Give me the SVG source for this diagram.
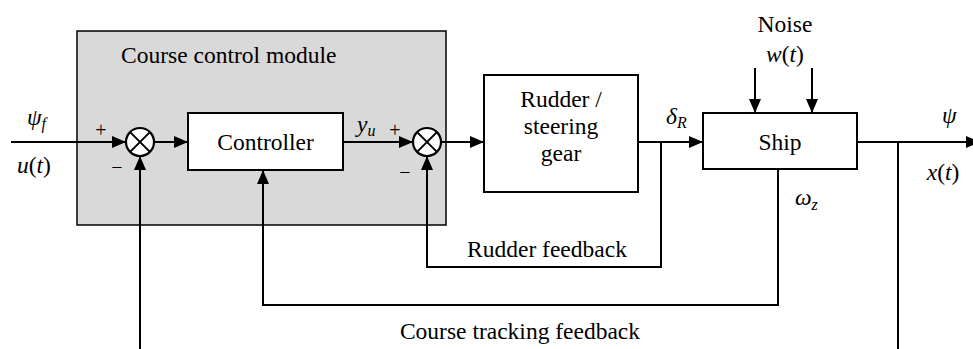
<svg xmlns="http://www.w3.org/2000/svg" width="973" height="349" viewBox="0 0 973 349" font-family="'Liberation Serif', 'Times New Roman', serif">
  <style>
    text { font-family: 'Liberation Serif', 'Times New Roman', serif; font-size: 23.5px; fill: #000; }
    .m { font-style: italic; }
    .n { font-style: normal; }
    .sub { font-size: 16px; font-style: italic; }
    .c { text-anchor: middle; }
    .box { fill: #fff; stroke: #000; stroke-width: 2; }
    .wire { fill: none; stroke: #000; stroke-width: 2; }
    .sum { fill: #fff; stroke: #000; stroke-width: 2.2; }
    .sign { font-size: 20px; }
  </style>
  <defs>
    <marker id="arrow" viewBox="0 0 14 12" refX="14" refY="6" markerWidth="14" markerHeight="12" markerUnits="userSpaceOnUse" orient="auto">
      <path d="M0,0 L14,6 L0,12 Z" fill="#000"/>
    </marker>
  </defs>

  <!-- controller module frame -->
  <g id="module">
    <rect x="77" y="31" width="369" height="194" fill="#d9d9d9" stroke="#000" stroke-width="1.5"/>
    <text x="121" y="63">Course control module</text>
  </g>

  <!-- connectors -->
  <g id="connectors">
    <line class="wire" x1="11" y1="142" x2="126" y2="142" marker-end="url(#arrow)"/>
    <line class="wire" x1="154" y1="142" x2="188" y2="142" marker-end="url(#arrow)"/>
    <line class="wire" x1="343" y1="142" x2="413" y2="142" marker-end="url(#arrow)"/>
    <line class="wire" x1="441" y1="142" x2="484" y2="142" marker-end="url(#arrow)"/>
    <line class="wire" x1="638" y1="142" x2="703" y2="142" marker-end="url(#arrow)"/>
    <line class="wire" x1="857" y1="142" x2="980" y2="142" marker-end="url(#arrow)"/>
    <!-- disturbance inputs -->
    <line class="wire" x1="755" y1="68" x2="755" y2="113" marker-end="url(#arrow)"/>
    <line class="wire" x1="812" y1="68" x2="812" y2="113" marker-end="url(#arrow)"/>
    <!-- rudder feedback loop -->
    <polyline class="wire" points="661,142 661,267 427,267 427,156" marker-end="url(#arrow)"/>
    <!-- course tracking loop -->
    <polyline class="wire" points="778,169 778,305 263,305 263,170" marker-end="url(#arrow)"/>
    <!-- heading feedback -->
    <line class="wire" x1="140" y1="349" x2="140" y2="156" marker-end="url(#arrow)"/>
    <line class="wire" x1="898" y1="142" x2="898" y2="349"/>
  </g>

  <g id="sum1">
    <circle class="sum" cx="140" cy="142" r="14"/>
    <path class="wire" d="M130.1,132.1 L149.9,151.9 M149.9,132.1 L130.1,151.9"/>
    <text class="sign c" x="101" y="137">+</text>
    <text class="sign c" x="117" y="174">−</text>
  </g>

  <g id="controller">
    <rect class="box" x="188" y="113" width="155" height="57"/>
    <text class="c" x="265.5" y="150">Controller</text>
  </g>

  <g id="sum2">
    <circle class="sum" cx="427" cy="142" r="14"/>
    <path class="wire" d="M417.1,132.1 L436.9,151.9 M436.9,132.1 L417.1,151.9"/>
    <text class="sign c" x="395" y="137">+</text>
    <text class="sign c" x="405" y="179">−</text>
  </g>

  <g id="rudder">
    <rect class="box" x="484" y="75" width="154" height="117"/>
    <text class="c" x="561" y="107">Rudder /</text>
    <text class="c" x="561" y="134">steering</text>
    <text class="c" x="561" y="161">gear</text>
  </g>

  <g id="ship">
    <rect class="box" x="703" y="113" width="154" height="56"/>
    <text class="c" x="780" y="150">Ship</text>
  </g>

  <!-- signal labels -->
  <g id="labels">
    <text class="m" x="27" y="125">ψ<tspan class="sub" dy="4">f</tspan></text>
    <text class="m" x="17" y="173">u<tspan class="n">(</tspan>t<tspan class="n">)</tspan></text>
    <text class="m" x="357" y="132">y<tspan class="sub" dy="4">u</tspan></text>
    <text class="m" x="666" y="124">δ<tspan class="sub" dy="4">R</tspan></text>
    <text class="c" x="785" y="32">Noise</text>
    <text class="m c" x="785" y="62">w<tspan class="n">(</tspan>t<tspan class="n">)</tspan></text>
    <text class="m" x="942" y="123">ψ</text>
    <text class="m c" x="943" y="180">x<tspan class="n">(</tspan>t<tspan class="n">)</tspan></text>
    <text class="m" x="795" y="205">ω<tspan class="sub" dy="5">z</tspan></text>
    <text class="c" x="547" y="257">Rudder feedback</text>
    <text class="c" x="520" y="339">Course tracking feedback</text>
  </g>
</svg>
